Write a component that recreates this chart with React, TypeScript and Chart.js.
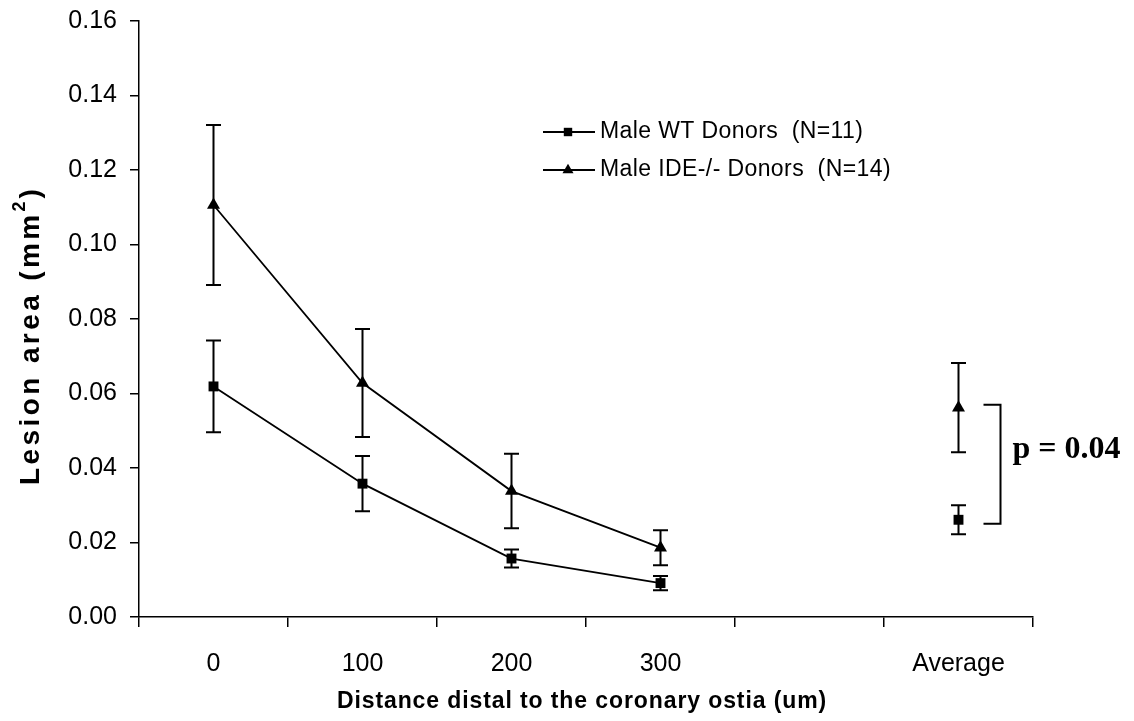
import React, { useEffect, useRef } from "react";
import { Chart, registerables } from "chart.js";

Chart.register(...registerables);

const categories = ["0", "100", "200", "300", "", "Average"];
const wtLabel = "Male WT Donors  (N=11)";
const ideLabel = "Male IDE-/- Donors  (N=14)";
const wtMeans = [0.0619, 0.0358, 0.0157, 0.0091, null, 0.0261];
const wtErrors = [0.0123, 0.0074, 0.0024, 0.0019, null, 0.0039];
const ideMeans = [0.1106, 0.0628, 0.0338, 0.0186, null, 0.0562];
const ideErrors = [0.0215, 0.0145, 0.01, 0.0047, null, 0.012];
const yTickValues = [0, 0.02, 0.04, 0.06, 0.08, 0.1, 0.12, 0.14, 0.16];
const pValueText = "p = 0.04";
const xTitle = "Distance distal to the coronary ostia (um)";
const yTitleMain = "Lesion area (mm";
const yTitleSup = "2";
const yTitleEnd = ")";

const SANS = "'Liberation Sans', Arial, sans-serif";

const annotationPlugin = {
  id: "annotations",
  afterDatasetsDraw(chart: any) {
    const ctx = chart.ctx;
    const y = chart.scales.y;
    const x = chart.scales.x;
    const errs = [wtErrors, ideErrors];
    ctx.save();
    ctx.strokeStyle = "#000";
    ctx.lineWidth = 2;
    chart.data.datasets.forEach((ds: any, di: number) => {
      ds.data.forEach((v: number | null, i: number) => {
        const e = errs[di][i];
        if (v == null || e == null) return;
        const px = x.getPixelForValue(i);
        const top = y.getPixelForValue(v + e);
        const bot = y.getPixelForValue(v - e);
        ctx.beginPath();
        ctx.moveTo(px, top);
        ctx.lineTo(px, bot);
        ctx.moveTo(px - 7.5, top);
        ctx.lineTo(px + 7.5, top);
        ctx.moveTo(px - 7.5, bot);
        ctx.lineTo(px + 7.5, bot);
        ctx.stroke();
      });
    });

    // significance bracket at Average
    const ai = categories.length - 1;
    const ax = x.getPixelForValue(ai);
    const yTop = y.getPixelForValue(ideMeans[ai] as number) - 3;
    const yBot = y.getPixelForValue(wtMeans[ai] as number) + 4;
    ctx.lineWidth = 2;
    ctx.beginPath();
    ctx.moveTo(ax + 25, yTop);
    ctx.lineTo(ax + 42, yTop);
    ctx.lineTo(ax + 42, yBot);
    ctx.lineTo(ax + 25, yBot);
    ctx.stroke();
    ctx.fillStyle = "#000";
    ctx.font = "bold 32px 'Liberation Serif', 'Times New Roman', serif";
    ctx.textAlign = "left";
    ctx.textBaseline = "middle";
    ctx.fillText(pValueText, ax + 54, (yTop + yBot) / 2 - 14);

    // legend
    const legendX = 543;
    const legendY = [132, 170];
    chart.data.datasets.forEach((ds: any, di: number) => {
      const ly = legendY[di];
      ctx.strokeStyle = ds.borderColor;
      ctx.lineWidth = ds.borderWidth;
      ctx.beginPath();
      ctx.moveTo(legendX, ly);
      ctx.lineTo(legendX + 52, ly);
      ctx.stroke();
      const r = ds.pointRadius * 0.85;
      ctx.fillStyle = "#000";
      ctx.beginPath();
      if (ds.pointStyle === "rect") {
        const s = Math.SQRT1_2 * r;
        ctx.rect(legendX + 25 - s, ly - s, 2 * s, 2 * s);
      } else {
        const cx = legendX + 25;
        ctx.moveTo(cx, ly - r);
        ctx.lineTo(cx + Math.sin((2 * Math.PI) / 3) * r, ly + r / 2);
        ctx.lineTo(cx - Math.sin((2 * Math.PI) / 3) * r, ly + r / 2);
        ctx.closePath();
      }
      ctx.fill();
      ctx.font = `23px ${SANS}`;
      (ctx as any).letterSpacing = "0.4px";
      ctx.textAlign = "left";
      ctx.textBaseline = "middle";
      ctx.fillText(ds.label, legendX + 57, ly);
      (ctx as any).letterSpacing = "0px";
    });

    // x axis title
    ctx.font = `bold 23px ${SANS}`;
    (ctx as any).letterSpacing = "0.9px";
    ctx.textAlign = "center";
    ctx.textBaseline = "middle";
    ctx.fillText(xTitle, (chart.chartArea.left + chart.chartArea.right) / 2 - 4, 702);

    // y axis title (rotated, with superscript)
    ctx.translate(29, 337);
    ctx.rotate(-Math.PI / 2);
    ctx.font = `bold 28px ${SANS}`;
    (ctx as any).letterSpacing = "3.4px";
    const w1 = ctx.measureText(yTitleMain).width;
    ctx.font = `bold 18px ${SANS}`;
    (ctx as any).letterSpacing = "0px";
    const w2 = ctx.measureText(yTitleSup).width + 3;
    ctx.font = `bold 28px ${SANS}`;
    const w3 = ctx.measureText(yTitleEnd).width;
    const total = w1 + w2 + w3;
    let cx = -total / 2;
    ctx.textAlign = "left";
    ctx.textBaseline = "alphabetic";
    (ctx as any).letterSpacing = "3.4px";
    ctx.fillText(yTitleMain, cx, 10);
    cx += w1;
    ctx.font = `bold 18px ${SANS}`;
    (ctx as any).letterSpacing = "0px";
    ctx.fillText(yTitleSup, cx, -4);
    cx += w2;
    ctx.font = `bold 28px ${SANS}`;
    ctx.fillText(yTitleEnd, cx, 10);
    ctx.restore();
  },
};

export default function App() {
  const ref = useRef<HTMLCanvasElement | null>(null);

  useEffect(() => {
    if (!ref.current) return;
    const chart = new Chart(ref.current, {
      type: "line",
      data: {
        labels: categories,
        datasets: [
          {
            label: wtLabel,
            data: wtMeans,
            borderColor: "#000",
            backgroundColor: "#000",
            borderWidth: 1.8,
            pointStyle: "rect",
            pointRadius: 7,
            pointBackgroundColor: "#000",
            pointBorderWidth: 0,
            spanGaps: false,
            tension: 0,
          },
          {
            label: ideLabel,
            data: ideMeans,
            borderColor: "#000",
            backgroundColor: "#000",
            borderWidth: 1.8,
            pointStyle: "triangle",
            pointRadius: 7.5,
            pointBackgroundColor: "#000",
            pointBorderWidth: 0,
            spanGaps: false,
            tension: 0,
          },
        ],
      },
      options: {
        responsive: false,
        animation: false,
        layout: { padding: { top: 21, right: 101, left: 0, bottom: 0 } },
        plugins: {
          legend: { display: false },
          tooltip: { enabled: false },
        },
        scales: {
          x: {
            type: "category",
            offset: true,
            grid: {
              offset: true,
              drawOnChartArea: false,
              drawTicks: true,
              tickLength: 10,
              color: "#000",
              lineWidth: 1.5,
            },
            border: { color: "#000", width: 1.5 },
            ticks: {
              color: "#000",
              font: { family: SANS, size: 25 },
              padding: 22,
              maxRotation: 0,
              autoSkip: false,
            },
            title: { display: false },
            afterFit: (s: any) => {
              s.height = 104;
              s.paddingLeft = 0;
              s.paddingRight = 0;
            },
          },
          y: {
            min: 0,
            max: 0.16,
            afterBuildTicks: (s: any) => {
              s.ticks = yTickValues.map((v) => ({ value: v }));
            },
            grid: {
              drawOnChartArea: false,
              drawTicks: true,
              tickLength: 9,
              color: "#000",
              lineWidth: 1.5,
            },
            border: { color: "#000", width: 1.5 },
            ticks: {
              color: "#000",
              font: { family: SANS, size: 25 },
              padding: 13,
              callback: (v: any) => Number(v).toFixed(2),
            },
            title: { display: false },
            afterFit: (s: any) => {
              s.width = 139;
              s.paddingTop = 0;
              s.paddingBottom = 0;
            },
          },
        },
      },
      plugins: [annotationPlugin],
    } as any);
    return () => chart.destroy();
  }, []);

  return (
    <div style={{ position: "fixed", left: 0, top: 0, width: 1134, height: 721, background: "#fff" }}>
      <canvas ref={ref} width={1134} height={721} style={{ display: "block" }} />
    </div>
  );
}
